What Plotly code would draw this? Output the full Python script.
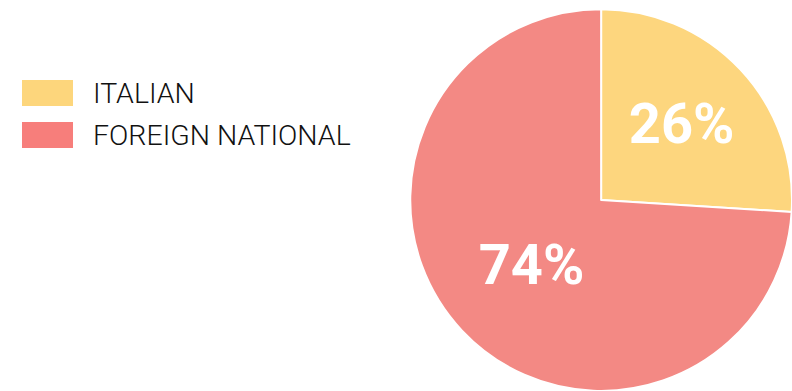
import plotly.graph_objects as go

# data
labels = ["ITALIAN", "FOREIGN NATIONAL"]
shares = [26, 74]

# pie slices are a bit paler than the legend swatches in the original
pie_colors = ["#FDD67E", "#F38984"]
legend_colors = ["#FDD67C", "#F77E7B"]

fig = go.Figure(
    go.Pie(
        labels=labels,
        values=shares,
        sort=False,
        direction="clockwise",
        rotation=0,
        marker=dict(colors=pie_colors, line=dict(color="white", width=2)),
        texttemplate="%{percent:.0%}",
        textposition="inside",
        insidetextfont=dict(family="Roboto", size=56, weight=700, color="white"),
        domain=dict(x=[0.518, 1.0], y=[0, 1]),
        showlegend=False,
        hoverinfo="label+percent",
    )
)

# legend drawn by hand, big swatches + light text
for i, (lab, col) in enumerate(zip(labels, legend_colors)):
    top = 80 + i * 42          # px from top of page
    fig.add_shape(type="rect", xref="paper", yref="paper",
                  x0=22 / 792, x1=73 / 792,
                  y0=(391 - top - 26) / 382, y1=(391 - top) / 382,
                  fillcolor=col, line=dict(width=0))
    fig.add_annotation(text=lab, xref="paper", yref="paper",
                       x=91 / 792, y=(391 - top - 13) / 382,
                       xanchor="left", yanchor="middle", showarrow=False,
                       font=dict(family="Roboto", size=28.5, weight=300, color="#111111"))

fig.update_layout(
    width=792, height=391,
    margin=dict(t=9, b=0, l=0, r=0),
    paper_bgcolor="white",
    plot_bgcolor="white",
)

fig.write_html("out.html", config={"displayModeBar": False},
               post_script="document.body.style.margin='0';")
